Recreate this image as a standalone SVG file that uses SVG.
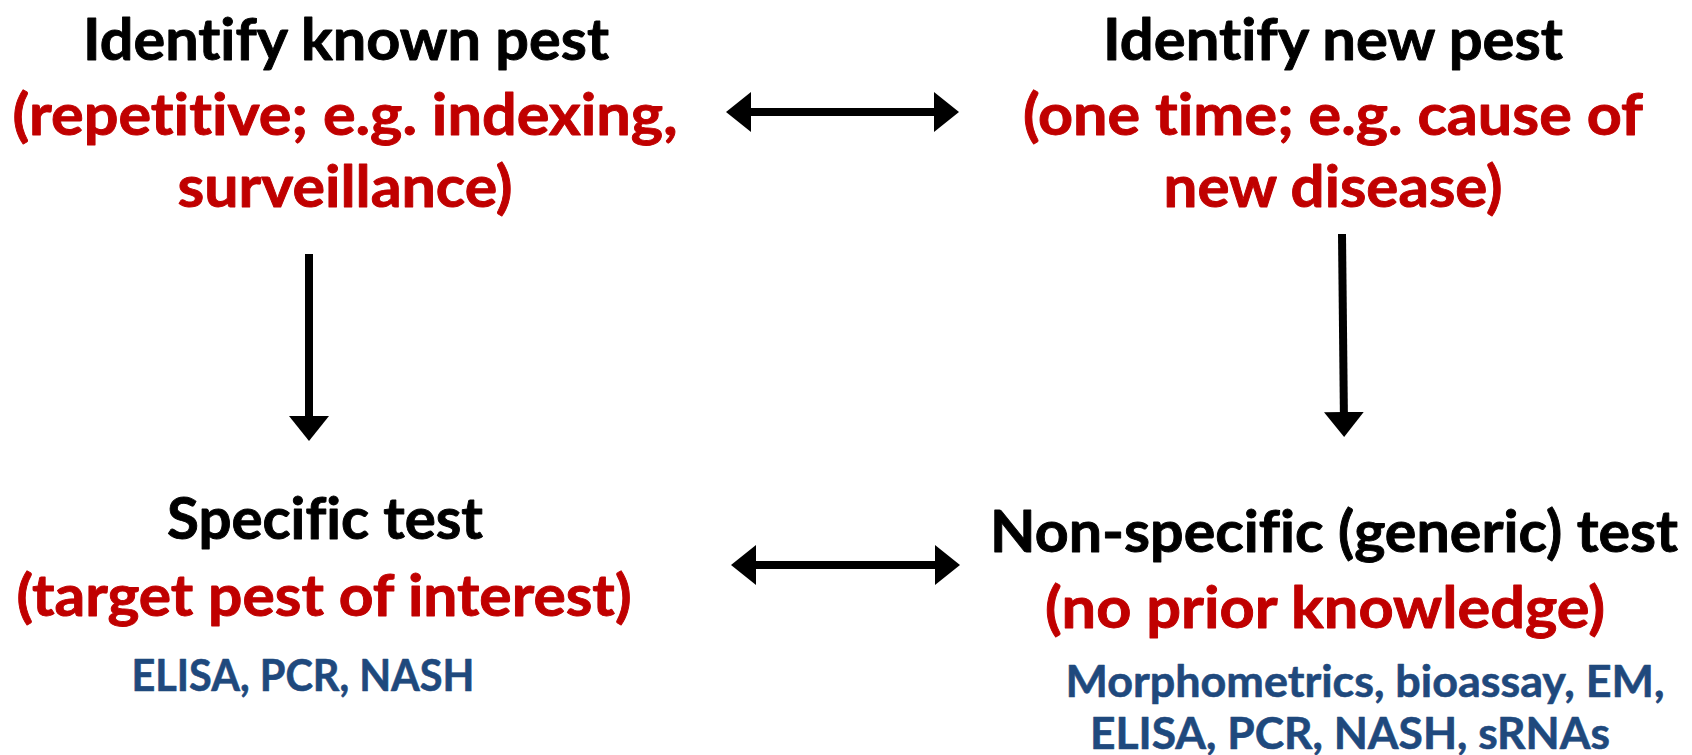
<svg xmlns="http://www.w3.org/2000/svg" width="1692" height="755" viewBox="0 0 1692 755">
  <style>
    text { font-family: Lato, "Open Sans", "Liberation Sans", sans-serif; font-weight: 700; text-anchor: middle; font-variant-ligatures: none; stroke-width: 0.9; stroke-linejoin: round; }
    .head { font-size: 58px; fill: #000000; stroke: #000000; }
    .note { font-size: 58px; fill: #C00000; stroke: #C00000; }
    .tech { font-size: 43px; fill: #1F497D; stroke: #1F497D; stroke-width: 0.6; }
    .conn { stroke: #000000; stroke-width: 8; fill: none; }
  </style>
  <defs>
    <marker id="tip" viewBox="0 0 25 40" markerWidth="25" markerHeight="40" refX="12" refY="20" markerUnits="userSpaceOnUse" orient="auto-start-reverse">
      <path d="M0,0 L25,20 L0,40 Z" fill="#000000"/>
    </marker>
  </defs>
  <rect width="1692" height="755" fill="#ffffff"/>

  <g id="known-pest">
    <text class="head" x="346" y="60" textLength="526" lengthAdjust="spacingAndGlyphs">Identify known pest</text>
    <text class="note" x="345" y="135" textLength="665" lengthAdjust="spacingAndGlyphs">(repetitive; e.g. indexing,</text>
    <text class="note" x="345" y="207" textLength="335" lengthAdjust="spacingAndGlyphs">surveillance)</text>
  </g>

  <g id="new-pest">
    <text class="head" x="1333" y="60" textLength="460" lengthAdjust="spacingAndGlyphs">Identify new pest</text>
    <text class="note" x="1333" y="135" textLength="620" lengthAdjust="spacingAndGlyphs">(one time; e.g. cause of</text>
    <text class="note" x="1333" y="207" textLength="339" lengthAdjust="spacingAndGlyphs">new disease)</text>
  </g>

  <g id="specific-test">
    <text class="head" x="325" y="539" textLength="316" lengthAdjust="spacingAndGlyphs">Specific test</text>
    <text class="note" x="324" y="616" textLength="615" lengthAdjust="spacingAndGlyphs">(target pest of interest)</text>
    <text class="tech" x="303" y="691" textLength="343" lengthAdjust="spacingAndGlyphs">ELISA, PCR, NASH</text>
  </g>

  <g id="generic-test">
    <text class="head" x="1334" y="552" textLength="688" lengthAdjust="spacingAndGlyphs">Non-specific (generic) test</text>
    <text class="note" x="1325" y="628" textLength="560" lengthAdjust="spacingAndGlyphs">(no prior knowledge)</text>
    <text class="tech" x="1365" y="697" textLength="599" lengthAdjust="spacingAndGlyphs">Morphometrics, bioassay, EM,</text>
    <text class="tech" x="1350" y="749" textLength="520" lengthAdjust="spacingAndGlyphs">ELISA, PCR, NASH, sRNAs</text>
  </g>

  <g id="connectors">
    <line class="conn" x1="739" y1="112" x2="946" y2="112" marker-start="url(#tip)" marker-end="url(#tip)"/>
    <line class="conn" x1="744" y1="565" x2="947" y2="565" marker-start="url(#tip)" marker-end="url(#tip)"/>
    <line class="conn" x1="309" y1="254" x2="309" y2="428" marker-end="url(#tip)"/>
    <line class="conn" x1="1342" y1="234" x2="1344" y2="424" marker-end="url(#tip)"/>
  </g>
</svg>
